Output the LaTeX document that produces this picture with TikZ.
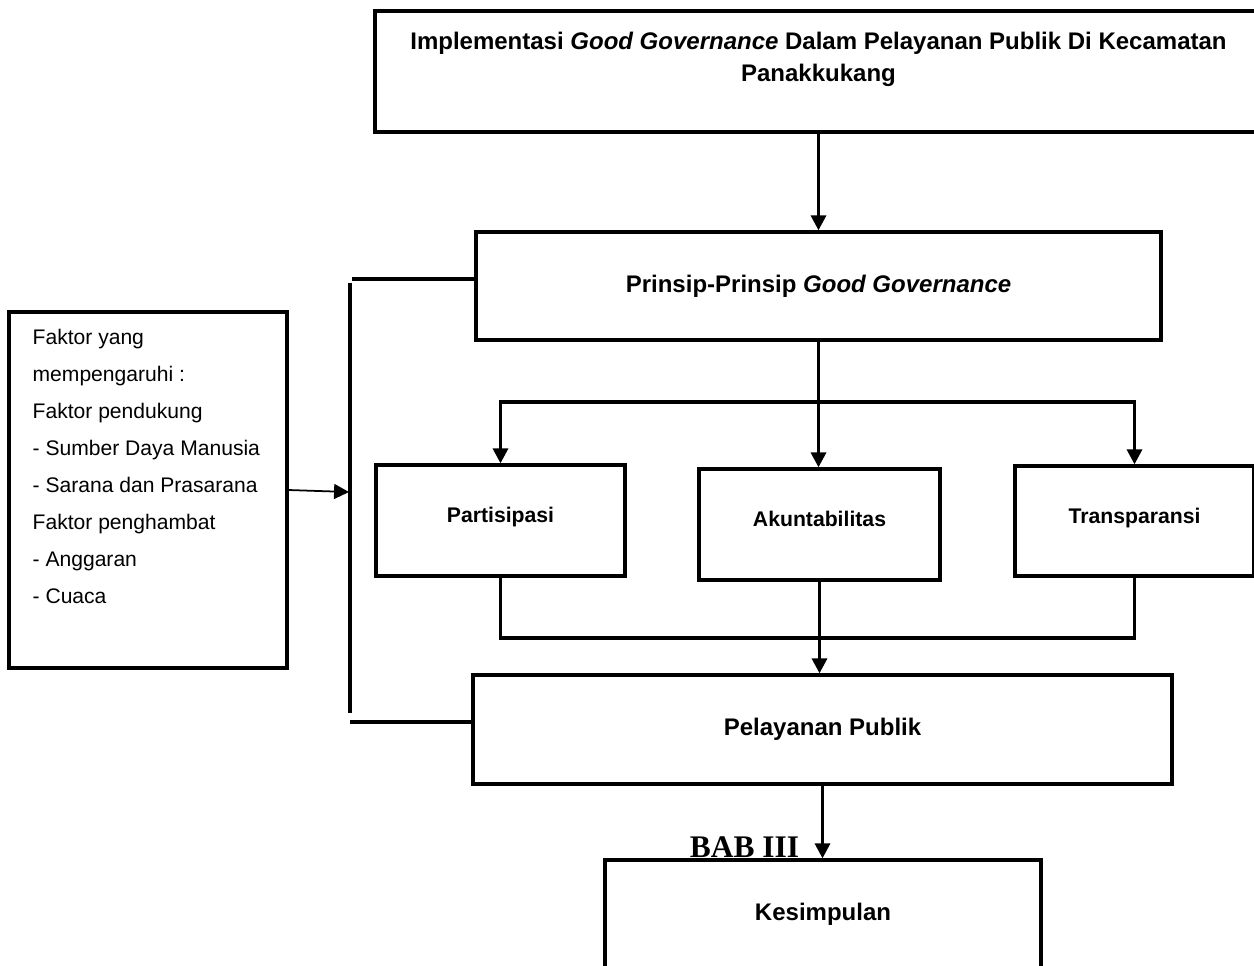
\documentclass[tikz,border=0pt]{standalone}
\usepackage{fontspec}
\setmainfont{Liberation Sans}
\newfontfamily\babfont{Liberation Serif}
\usetikzlibrary{arrows.meta}

\begin{document}
\begin{tikzpicture}[x=0.02cm, y=-0.02cm, line width=1.9pt,
    box/.style={draw, rectangle, line width=1.9pt, inner sep=0pt, align=center},
    bigtext/.style={font=\fontsize{13.66}{18.2}\selectfont\bfseries},
    smalltext/.style={font=\fontsize{12.06}{14}\selectfont\bfseries, text depth=6pt},
    flow/.style={-{Triangle[length=8.5pt,width=8.5pt]}}]
  \useasboundingbox (0,0) rectangle (1254,965);

  % boxes
  \node [box, minimum width=17.74cm, minimum height=2.42cm] (impl) at (818.5, 71.5) {};
  \node [bigtext, align=center, anchor=north, inner sep=0pt] (implText) at (818.5, 30.5)
    {Implementasi \textit{Good Governance} Dalam Pelayanan Publik Di Kecamatan\\Panakkukang};
  \node [box, bigtext, minimum width=13.7cm, minimum height=2.16cm] (prinsip) at (818.5, 286) {Prinsip-Prinsip \textit{Good Governance}};
  \node [box, smalltext, minimum width=4.98cm, minimum height=2.22cm] (partisipasi) at (500.5, 520.5) {Partisipasi};
  \node [box, smalltext, minimum width=4.82cm, minimum height=2.22cm] (akuntabilitas) at (819.5, 524.5) {Akuntabilitas};
  \node [box, smalltext, minimum width=4.78cm, minimum height=2.2cm] (transparansi) at (1134.5, 521) {Transparansi};
  \node [box, bigtext, minimum width=13.98cm, minimum height=2.18cm] (pelayanan) at (822.5, 729.5) {Pelayanan Publik};
  \node [box, bigtext, minimum width=8.72cm, minimum height=2.16cm] (kesimpulan) at (823, 914) {Kesimpulan};
  \node [box, minimum width=5.56cm, minimum height=7.12cm] (faktor) at (148, 490) {};
  \node [font=\fontsize{12}{21.05}\selectfont, align=left, anchor=north west, inner sep=0pt] (faktorText) at (31, 328)
    {Faktor yang\\mempengaruhi :\\Faktor pendukung\\- Sumber Daya Manusia\\- Sarana dan Prasarana\\Faktor penghambat\\- Anggaran\\- Cuaca};
  \node [font=\babfont\bfseries\fontsize{17.9}{20}\selectfont, anchor=base, inner sep=0pt] (bab) at (744.5, 857) {BAB III};

  % connectors
  \coordinate (split) at (818.5, 402);
  \coordinate (merge) at (819.5, 638);
  \coordinate (fbTop) at (352, 279);
  \coordinate (fbUp) at (350, 283);
  \coordinate (fbDown) at (350, 713);
  \coordinate (fbBot) at (350, 722);
  \coordinate (fbIn) at (349, 492);
  \draw [flow] (impl.south) -- (prinsip.north);
  \draw [flow] (prinsip.south) -- (prinsip.south |- akuntabilitas.north);
  \draw [flow] (split) -| (partisipasi.north);
  \draw [flow] (split) -| (transparansi.north);
  \draw (partisipasi.south) |- (merge) -| (transparansi.south);
  \draw [flow] (akuntabilitas.south) -- (akuntabilitas.south |- pelayanan.north);
  \draw [flow] (pelayanan.south) -- (pelayanan.south |- kesimpulan.north);
  \draw (prinsip.west |- fbTop) -- (fbTop);
  \draw (fbUp) -- (fbDown);
  \draw (fbBot) -- (pelayanan.west |- fbBot);
  \draw [flow, line width=1pt] (faktor.east) -- (fbIn);
\end{tikzpicture}
\end{document}
